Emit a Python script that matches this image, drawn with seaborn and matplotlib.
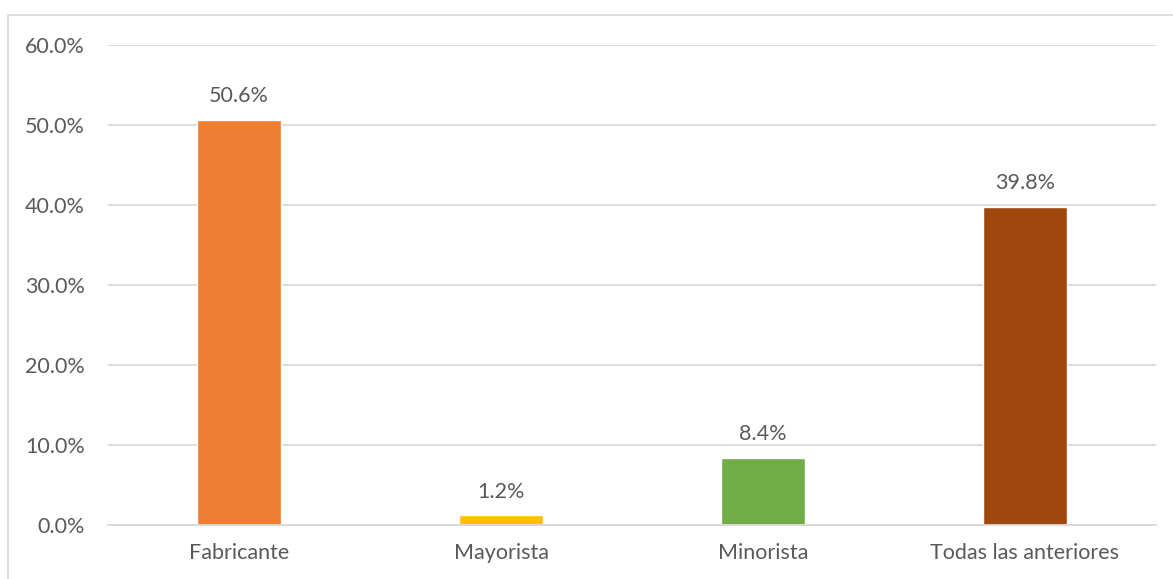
import matplotlib
matplotlib.use("Agg")
import matplotlib.pyplot as plt
import seaborn as sns
import pandas as pd
from matplotlib.lines import Line2D

categorias = ["Fabricante", "Mayorista", "Minorista", "Todas las anteriores"]
porcentajes = [50.6, 1.2, 8.4, 39.8]
colores = ["#ED7D31", "#FFC000", "#70AD47", "#9E480E"]
ticks_y = [0, 10, 20, 30, 40, 50, 60]

df = pd.DataFrame({"Categoria": categorias, "Porcentaje": porcentajes})

sns.set_style("white")
plt.rcParams["font.family"] = ["Lato", "DejaVu Sans"]
gris = "#595959"
linea = "#D9D9D9"
tam = 15.5

W, H = 1173, 579
fig = plt.figure(figsize=(W / 100, H / 100), dpi=100)
ax = fig.add_axes([108 / W, (H - 525) / H, 1048 / W, 480 / H])

sns.barplot(data=df, x="Categoria", y="Porcentaje", hue="Categoria",
            palette=colores, width=0.317, legend=False, ax=ax, saturation=1)

ax.set_ylim(0, 60)
ax.set_xlim(-0.5, 3.5)
ax.set_yticks(ticks_y)
ax.set_yticklabels([f"{t:.1f}%" for t in ticks_y])
ax.yaxis.grid(True, color=linea, linewidth=1.3)
ax.set_axisbelow(True)
for s in ["top", "right", "left"]:
    ax.spines[s].set_visible(False)
ax.spines["bottom"].set_color(linea)
ax.spines["bottom"].set_linewidth(1.3)
ax.tick_params(axis="both", length=0, colors=gris, labelsize=tam)
ax.tick_params(axis="y", pad=16.5)
ax.tick_params(axis="x", pad=13)
ax.set_xlabel("")
ax.set_ylabel("")

for i, v in enumerate(porcentajes):
    ax.annotate(f"{v:.1f}%", (i, v), xytext=(0, 10), textcoords="offset points",
                ha="center", va="bottom", color=gris, fontsize=tam)

# borde del gráfico (solo izquierda y arriba visibles)
fig.add_artist(Line2D([8 / W, 8 / W], [0, 1 - 15 / H], transform=fig.transFigure,
                      color=linea, linewidth=1.3))
fig.add_artist(Line2D([8 / W, 1], [1 - 15 / H, 1 - 15 / H], transform=fig.transFigure,
                      color=linea, linewidth=1.3))

fig.savefig("out.png", dpi=100, facecolor="white")
